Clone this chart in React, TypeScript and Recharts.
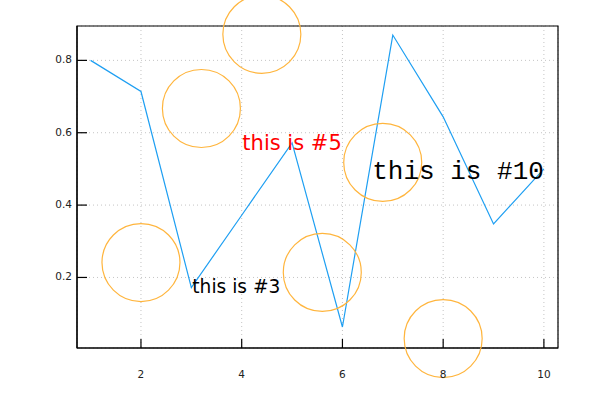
import {
  ComposedChart,
  Line,
  Scatter,
  XAxis,
  YAxis,
  CartesianGrid,
  ReferenceArea,
} from "recharts";

// line series
const xs = [1, 2, 3, 4, 5, 6, 7, 8, 9, 10];
const ys = [0.8, 0.714, 0.172, 0.372, 0.572, 0.063, 0.87, 0.644, 0.348, 0.5];

// circle centres
const circleX = [2, 3.2, 4.4, 5.6, 6.8, 8];
const circleY = [0.241, 0.667, 0.872, 0.214, 0.518, 0.031];

// annotations on line points
const labelIdx = [2, 4, 9];
const labelText = ["this is #3", "this is #5", "this is #10"];

const xTicks = [2, 4, 6, 8, 10];
const yTicks = [0.2, 0.4, 0.6, 0.8];

const xDomain = [0.73, 10.28];
const yDomain = [0.005, 0.895];

const lineData = xs.map((x, i) => ({ x, y: ys[i] }));
const circleData = circleX.map((x, i) => ({ x, y: circleY[i] }));

const labelStyles = [
  { anchor: "start", fill: "#000", size: 18.6, family: "DejaVu Sans", dx: 1, dy: 0 },
  { anchor: "middle", fill: "#ff0000", size: 21, family: "DejaVu Sans", dx: 0, dy: 1.5 },
  {
    anchor: "end",
    fill: "#000",
    size: 26,
    family: "'Courier New', 'Liberation Mono', monospace",
    dx: 0,
    dy: 3,
  },
];

const XTick = ({ x, y, payload }: any) => (
  <g>
    <line x1={x} y1={y} x2={x} y2={y - 9} stroke="#000" strokeWidth={1.2} />
    <text
      x={x}
      y={y + 27}
      textAnchor="middle"
      dominantBaseline="middle"
      fontSize={10.5}
      fontFamily="DejaVu Sans"
      fill="#222"
    >
      {payload.value}
    </text>
  </g>
);

const YTick = ({ x, y, payload }: any) => (
  <g>
    <line x1={x} y1={y} x2={x + 10} y2={y} stroke="#000" strokeWidth={1.2} />
    <text
      x={x - 5}
      y={y}
      textAnchor="end"
      dominantBaseline="middle"
      fontSize={10.5}
      fontFamily="DejaVu Sans"
      fill="#222"
    >
      {payload.value.toFixed(1)}
    </text>
  </g>
);

const renderLabel = (props: any) => {
  const k = labelIdx.indexOf(props.index);
  if (k < 0) return <g key={props.index} />;
  const s = labelStyles[k];
  return (
    <text
      key={props.index}
      x={props.x + s.dx}
      y={props.y + s.dy}
      textAnchor={s.anchor}
      dominantBaseline="middle"
      fontSize={s.size}
      fontFamily={s.family}
      fill={s.fill}
    >
      {labelText[k]}
    </text>
  );
};

const Ring = ({ cx, cy }: any) => (
  <circle cx={cx} cy={cy} r={39} fill="none" stroke="#ffb53d" strokeWidth={1.2} />
);

export default function App() {
  return (
    <div style={{ position: "absolute", left: 0, top: 0, background: "#fff" }}>
      <ComposedChart
        width={600}
        height={400}
        data={lineData}
        margin={{ top: 26, right: 42, bottom: 22, left: 0 }}
      >
        <CartesianGrid strokeDasharray="1 3" stroke="#c4c4c4" />
        <XAxis
          dataKey="x"
          type="number"
          domain={xDomain}
          ticks={xTicks}
          height={30}
          tickSize={0}
          tickMargin={0}
          tickLine={false}
          axisLine={{ stroke: "#000", strokeWidth: 1.2 }}
          tick={<XTick />}
        />
        <YAxis
          type="number"
          domain={yDomain}
          ticks={yTicks}
          width={77}
          tickSize={0}
          tickMargin={0}
          tickLine={false}
          axisLine={{ stroke: "#000", strokeWidth: 1.2 }}
          tick={<YTick />}
        />
        <ReferenceArea
          x1={xDomain[0]}
          x2={xDomain[1]}
          y1={yDomain[0]}
          y2={yDomain[1]}
          fill="none"
          stroke="#000"
          strokeWidth={1.2}
          ifOverflow="visible"
        />
        <Line
          dataKey="y"
          stroke="#1e9ff2"
          strokeWidth={1.2}
          dot={false}
          isAnimationActive={false}
          label={renderLabel}
        />
        <Scatter
          data={circleData}
          dataKey="y"
          shape={<Ring />}
          isAnimationActive={false}
        />
      </ComposedChart>
    </div>
  );
}
